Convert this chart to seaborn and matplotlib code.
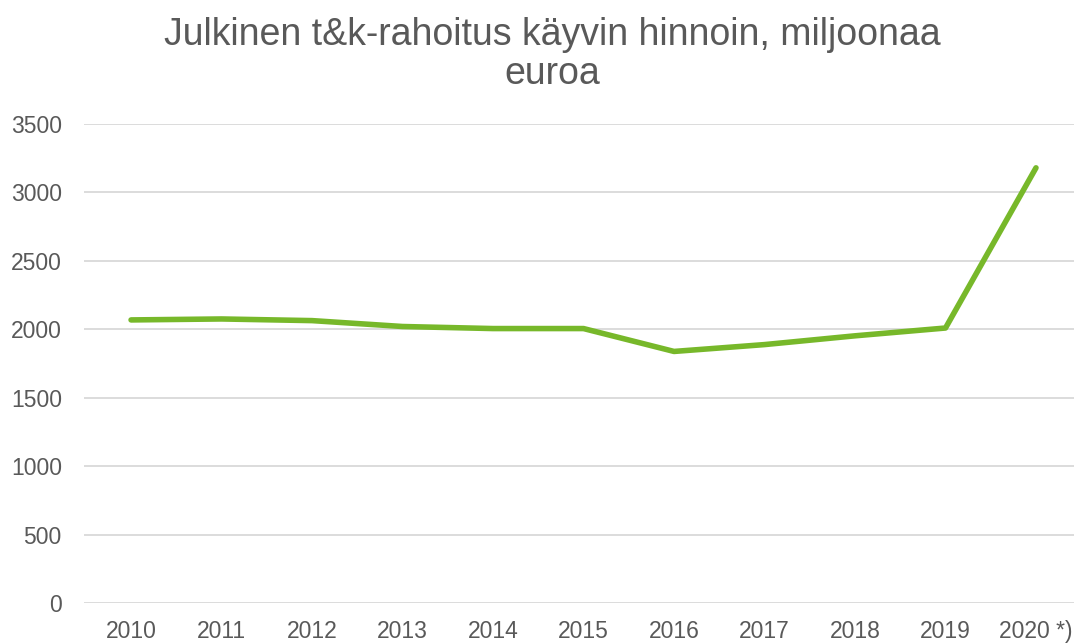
import pandas as pd
import matplotlib.pyplot as plt
import seaborn as sns

# values (million euro)
years = ["2010", "2011", "2012", "2013", "2014", "2015", "2016", "2017", "2018", "2019", "2020 *)"]
funding = [2068, 2075, 2063, 2020, 2005, 2005, 1838, 1888, 1952, 2009, 3178]

data = pd.DataFrame({"year": years, "funding": funding})
data["pos"] = range(len(years))

sns.set_style("white")
plt.rcParams["font.family"] = ["Liberation Sans", "DejaVu Sans"]

fig = plt.figure(figsize=(10.74, 6.43), dpi=100)
ax = fig.add_axes([84 / 1074, 1 - 603.3 / 643, 1 - 84 / 1074, (603.3 - 123.7) / 643])

sns.lineplot(data=data, x="pos", y="funding", color="#77b82a", linewidth=4,
             solid_capstyle="round", solid_joinstyle="round", ax=ax, zorder=3)

ax.set_ylim(0, 3500)
ax.set_xlim(-0.52, 10.42)
ax.set_yticks(range(0, 3501, 500))
ax.set_xticks(data["pos"])
ax.set_xticklabels(years)
ax.grid(axis="y", color="#d9d9d9", linewidth=1.3)
ax.grid(axis="x", visible=False)
for s in ax.spines.values():
    s.set_visible(False)
ax.tick_params(axis="both", length=0, labelsize=16.5, colors="#595959")
ax.tick_params(axis="x", pad=12)
ax.tick_params(axis="y", pad=16)
ax.set_xlabel("")
ax.set_ylabel("")

fig.text(0.514, 0.974, "Julkinen t&k-rahoitus käyvin hinnoin, miljoonaa\neuroa",
         ha="center", va="top", fontsize=27, color="#595959", linespacing=1.12)

fig.savefig("out.png", dpi=100)
